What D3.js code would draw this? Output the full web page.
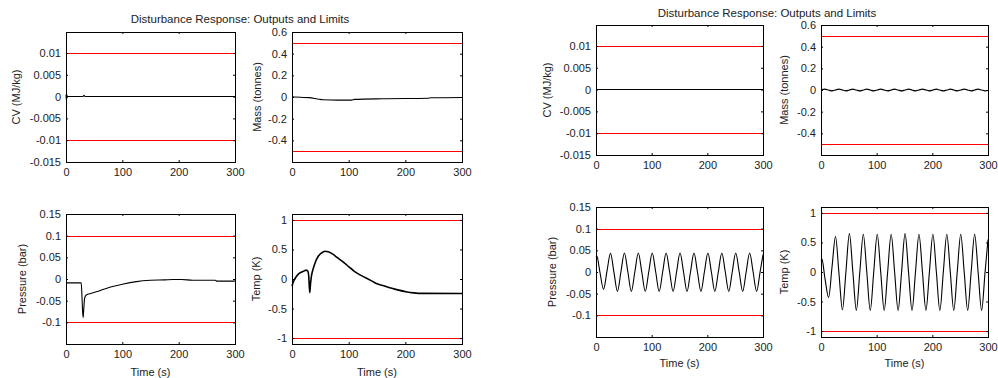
<!DOCTYPE html>
<html>
<head>
<meta charset="utf-8">
<script src="https://cdn.jsdelivr.net/npm/d3@7"></script>
<style>
  body { margin: 0; background: #fff; }
  text { font-family: "Liberation Sans", Arial, sans-serif; }
</style>
</head>
<body>
<div id="plot"></div>
<script>
// tick values shared by the panels
const timeTicks = [0, 100, 200, 300];
const cvTicks = [-0.015, -0.01, -0.005, 0, 0.005, 0.01];
const massTicks = [-0.4, -0.2, 0, 0.2, 0.4, 0.6];
const pressureTicks = [-0.1, -0.05, 0, 0.05, 0.1, 0.15];
const tempTicks = [-1, -0.5, 0, 0.5, 1];

// limit lines (red)
const cvLimits = [-0.01, 0.01];
const massLimits = [-0.5, 0.5];
const pressureLimits = [-0.1, 0.1];
const tempLimits = [-1, 1];

// left figure: [time (s), value]
const cvA = [[0, 0.0005], [0.5, -0.0006], [1, 0.0004], [1.5, -0.0003], [2, 0.0002], [3, 0],
  [30, 0], [32, 0.0003], [34, 0], [300, 0]];
const massA = [[0, 0.001], [15, -0.003], [30, -0.006], [45, -0.018], [55, -0.026], [80, -0.029],
  [105, -0.029], [110, -0.022], [160, -0.016], [240, -0.012], [245, -0.007], [300, -0.004]];
const pressureA = [[0, -0.009], [27, -0.009], [28, -0.03], [29.5, -0.075], [30.5, -0.089],
  [31.5, -0.07], [33, -0.045], [36, -0.037], [45, -0.033], [60, -0.027], [75, -0.02],
  [100, -0.012], [125, -0.006], [150, -0.003], [175, -0.002], [190, -0.001], [205, -0.001],
  [225, -0.003], [265, -0.003], [268, -0.005], [300, -0.005]];
const tempA = [[0, -0.12], [2, -0.06], [5, 0.0], [10, 0.07], [15, 0.11], [20, 0.13], [25, 0.15],
  [28, 0.13], [29.5, 0.05], [30.5, -0.12], [31.5, -0.23], [32.5, -0.1], [34, 0.03], [37, 0.16],
  [41, 0.28], [46, 0.38], [52, 0.44], [58, 0.47], [64, 0.46], [72, 0.42], [80, 0.36], [90, 0.29],
  [100, 0.21], [110, 0.13], [120, 0.07], [130, 0.02], [142, -0.04], [150, -0.08], [160, -0.11],
  [171, -0.145], [185, -0.18], [201, -0.215], [215, -0.235], [230, -0.244], [300, -0.245]];

// right figure: sample times and values
const oscTimes = [0, 1.5, 7, 13.5, 19.75, 26, 32.25, 38.5, 44.75, 51, 57.25, 63.5, 69.75, 76,
  82.25, 88.5, 94.75, 101, 107.25, 113.5, 119.75, 126, 132.25, 138.5, 144.75, 151, 157.25,
  163.5, 169.75, 176, 182.25, 188.5, 194.75, 201, 207.25, 213.5, 219.75, 226, 232.25, 238.5,
  244.75, 251, 257.25, 263.5, 269.75, 276, 282.25, 288.5, 294.75, 300];
const cvB = [0, 0, 0, 0, 0, 0, 0, 0, 0, 0, 0, 0, 0, 0, 0, 0, 0, 0, 0, 0, 0, 0, 0, 0, 0,
  0, 0, 0, 0, 0, 0, 0, 0, 0, 0, 0, 0, 0, 0, 0, 0, 0, 0, 0, 0, 0, 0, 0, 0, 0];
const massB = [0, 0.003, 0.008, 0, -0.008, 0, 0.008, 0, -0.008, 0, 0.008, 0, -0.008, 0, 0.008,
  0, -0.008, 0, 0.008, 0, -0.008, 0, 0.008, 0, -0.008, 0, 0.008, 0, -0.008, 0, 0.008, 0,
  -0.008, 0, 0.008, 0, -0.008, 0, 0.008, 0, -0.008, 0, 0.008, 0, -0.008, 0, 0.008, 0, -0.008, -0.004];
const pressureB = [0.035, 0.037, 0.0, -0.04, 0.002, 0.043, -0.001, -0.045, 0, 0.044, 0, -0.045,
  0, 0.044, 0, -0.045, 0, 0.044, 0, -0.045, 0, 0.044, 0, -0.045, 0, 0.044, 0, -0.045, 0, 0.044,
  0, -0.045, 0, 0.044, 0, -0.045, 0, 0.044, 0, -0.045, 0, 0.044, 0, -0.045, 0, 0.044, 0,
  -0.045, 0, 0.04];
const tempB = [0.21, 0.22, -0.1, -0.43, 0.08, 0.6, -0.02, -0.64, 0, 0.65, 0, -0.65, 0, 0.64, 0,
  -0.65, 0, 0.64, 0, -0.65, 0, 0.64, 0, -0.65, 0, 0.65, 0, -0.65, 0, 0.64, 0, -0.65, 0, 0.64,
  0, -0.65, 0, 0.64, 0, -0.65, 0, 0.64, 0, -0.65, 0, 0.64, 0, -0.65, 0, 0.55];

const zip = vals => oscTimes.map((t, i) => [t, vals[i]]);

const svg = d3.select("#plot").append("svg")
  .attr("width", 998)
  .attr("height", 378);

const fontSize = 11;

function drawPanel(p) {
  const w = p.x1 - p.x0;
  const h = p.y1 - p.y0;
  const x = d3.scaleLinear().domain([0, 300]).range([0, w]);
  const y = d3.scaleLinear().domain(p.domain).range([h, 0]);
  const g = svg.append("g").attr("transform", `translate(${p.x0},${p.y0})`);

  g.selectAll("line.limit")
    .data(p.limits)
    .join("line")
    .attr("class", "limit")
    .attr("x1", x(0)).attr("x2", x(300))
    .attr("y1", d => Math.round(y(d)) + 0.5)
    .attr("y2", d => Math.round(y(d)) + 0.5)
    .attr("stroke", "#ff0000")
    .attr("stroke-width", 1);

  g.append("path")
    .datum(p.series)
    .attr("fill", "none")
    .attr("stroke", "#000")
    .attr("stroke-width", p.lw || 1.1)
    .attr("stroke-linejoin", "round")
    .attr("d", d3.line()
      .x(d => x(d[0]))
      .y(d => y(d[1]))
      .curve(p.curve || d3.curveLinear));

  const fmt = d => String(d);
  const axes = [
    g.append("g").attr("transform", `translate(0,${h})`)
      .call(d3.axisBottom(x).tickValues(timeTicks).tickSizeInner(-2).tickSizeOuter(0).tickPadding(6).tickFormat(fmt)),
    g.append("g")
      .call(d3.axisTop(x).tickValues(timeTicks).tickSizeInner(-2).tickSizeOuter(0).tickFormat("")),
    g.append("g")
      .call(d3.axisLeft(y).tickValues(p.ticks).tickSizeInner(-2).tickSizeOuter(0).tickPadding(5).tickFormat(fmt)),
    g.append("g").attr("transform", `translate(${w},0)`)
      .call(d3.axisRight(y).tickValues(p.ticks).tickSizeInner(-2).tickSizeOuter(0).tickFormat(""))
  ];
  axes.forEach(a => {
    a.attr("font-size", fontSize).attr("font-family", null);
    a.select(".domain").remove();
    a.selectAll("text").attr("fill", "#222");
  });

  g.append("rect")
    .attr("x", 0.5).attr("y", 0.5)
    .attr("width", w).attr("height", h)
    .attr("fill", "none")
    .attr("stroke", "#000")
    .attr("stroke-width", 1);

  g.append("text")
    .attr("transform", `translate(${p.labelX - p.x0},${h / 2}) rotate(-90)`)
    .attr("text-anchor", "middle")
    .attr("dy", "0.35em")
    .attr("font-size", fontSize)
    .attr("fill", "#222")
    .text(p.ylabel);

  if (p.xlabel) {
    g.append("text")
      .attr("x", w / 2)
      .attr("y", p.xlabelY - p.y0)
      .attr("text-anchor", "middle")
      .attr("font-size", fontSize)
      .attr("fill", "#222")
      .text("Time (s)");
  }
}

const panels = [
  { x0: 66, x1: 235, y0: 32, y1: 162, domain: [-0.015, 0.0148], ticks: cvTicks, limits: cvLimits,
    series: cvA, ylabel: "CV (MJ/kg)", labelX: 16 },
  { x0: 292, x1: 462, y0: 32, y1: 162, domain: [-0.6, 0.6], ticks: massTicks, limits: massLimits,
    series: massA, ylabel: "Mass (tonnes)", labelX: 257, curve: d3.curveMonotoneX },
  { x0: 66, x1: 235, y0: 214, y1: 344, domain: [-0.15, 0.15], ticks: pressureTicks, limits: pressureLimits,
    series: pressureA, ylabel: "Pressure (bar)", labelX: 22, xlabel: true, xlabelY: 376, curve: d3.curveMonotoneX },
  { x0: 292, x1: 462, y0: 214, y1: 344, domain: [-1.1, 1.1], ticks: tempTicks, limits: tempLimits,
    series: tempA, ylabel: "Temp (K)", labelX: 256, xlabel: true, xlabelY: 376, lw: 1.6, curve: d3.curveMonotoneX },
  { x0: 596, x1: 763, y0: 25, y1: 155, domain: [-0.015, 0.0148], ticks: cvTicks, limits: cvLimits,
    series: zip(cvB), ylabel: "CV (MJ/kg)", labelX: 547 },
  { x0: 821, x1: 988, y0: 25, y1: 155, domain: [-0.6, 0.6], ticks: massTicks, limits: massLimits,
    series: zip(massB), ylabel: "Mass (tonnes)", labelX: 784, curve: d3.curveCatmullRom },
  { x0: 596, x1: 763, y0: 207, y1: 337, domain: [-0.15, 0.15], ticks: pressureTicks, limits: pressureLimits,
    series: zip(pressureB), ylabel: "Pressure (bar)", labelX: 552, xlabel: true, xlabelY: 367, curve: d3.curveCatmullRom },
  { x0: 821, x1: 988, y0: 207, y1: 337, domain: [-1.1, 1.1], ticks: tempTicks, limits: tempLimits,
    series: zip(tempB), ylabel: "Temp (K)", labelX: 784, xlabel: true, xlabelY: 367, curve: d3.curveCatmullRom }
];

panels.forEach(drawPanel);

// figure titles
[[240, 23], [767, 17]].forEach(([tx, ty]) => {
  svg.append("text")
    .attr("x", tx)
    .attr("y", ty)
    .attr("text-anchor", "middle")
    .attr("font-size", 11.5)
    .attr("fill", "#222")
    .text("Disturbance Response: Outputs and Limits");
});
</script>
</body>
</html>
